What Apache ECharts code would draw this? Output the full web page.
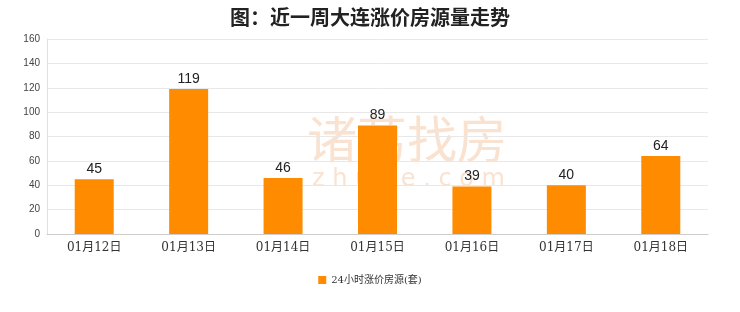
<!DOCTYPE html>
<html><head><meta charset="utf-8">
<script src="https://cdn.jsdelivr.net/npm/echarts@6/dist/echarts.min.js"></script>
<style>html,body{margin:0;padding:0;background:#fff}#c{width:740px;height:312px}</style>
</head><body><div id="c"></div>
<script>
const categories = ['01月12日','01月13日','01月14日','01月15日','01月16日','01月17日','01月18日'];
const values = [45, 119, 46, 89, 39, 40, 64];
const seriesName = '24小时涨价房源(套)';
const titleText = '图：近一周大连涨价房源量走势';

const chart = echarts.init(document.getElementById('c'));
chart.setOption({
  backgroundColor: '#ffffff',
  animation: false,
  title: {
    text: titleText, left: 'center', top: 2,
    textStyle: {fontSize: 20, fontWeight: 'bold', color: '#222', fontFamily: 'Noto Sans CJK SC'}
  },
  graphic: [
    {type: 'text', left: 307, top: 114, silent: true,
     style: {text: '诸葛找房', fontSize: 50, fill: 'rgba(245,190,150,0.45)', fontFamily: 'Noto Sans CJK SC'}},
    {type: 'text', left: 312, top: 168, silent: true,
     style: {text: 'z h u g e . c o m', fontSize: 24, fill: 'rgba(245,190,150,0.45)', fontFamily: 'DejaVu Sans'}}
  ],
  legend: {
    bottom: 22, left: 'center', itemWidth: 8, itemHeight: 8, icon: 'rect',
    textStyle: {fontSize: 10, color: '#333', fontFamily: 'DejaVu Serif, Noto Sans CJK SC'},
    data: [seriesName]
  },
  grid: {left: 47, right: 32, top: 39, bottom: 78},
  xAxis: {
    type: 'category', data: categories,
    axisLine: {lineStyle: {color: '#ccc'}},
    axisTick: {show: false},
    axisLabel: {fontSize: 12, color: '#333', margin: 8, fontFamily: 'DejaVu Serif, Noto Sans CJK SC'}
  },
  yAxis: {
    type: 'value', min: 0, max: 160, interval: 20,
    axisLine: {show: true, lineStyle: {color: '#e0e0e0'}},
    axisTick: {show: false},
    splitLine: {lineStyle: {color: '#e8e8e8'}},
    axisLabel: {fontSize: 10, color: '#444', margin: 7}
  },
  series: [{
    name: seriesName, type: 'bar', data: values, barWidth: 39,
    itemStyle: {color: '#ff8c00'},
    label: {show: true, position: 'top', fontSize: 14, color: '#222', distance: 3}
  }]
});
</script></body></html>
